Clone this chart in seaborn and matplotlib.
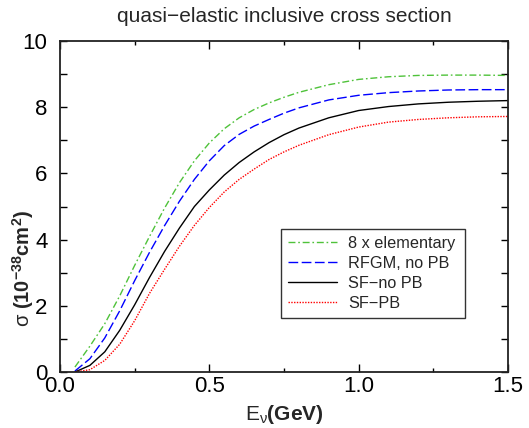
import matplotlib
matplotlib.use("Agg")
import matplotlib.pyplot as plt
import seaborn as sns
import pandas as pd
from matplotlib.ticker import MultipleLocator, FixedLocator

# Neutrino energy grid (GeV)
energy = [0.05, 0.10, 0.15, 0.20, 0.25, 0.30, 0.35, 0.40, 0.45, 0.50,
          0.55, 0.60, 0.65, 0.70, 0.75, 0.80, 0.90, 1.00, 1.10, 1.20,
          1.30, 1.40, 1.50]

# Cross sections in units of 1e-38 cm^2
elementary_x8 = [0.15, 0.78, 1.46, 2.30, 3.22, 4.10, 4.95, 5.72, 6.38, 6.92,
                 7.35, 7.68, 7.93, 8.13, 8.30, 8.45, 8.68, 8.84, 8.92, 8.96,
                 8.97, 8.97, 8.96]
rfgm_no_pb = [0.03, 0.40, 1.03, 1.85, 2.76, 3.62, 4.42, 5.16, 5.82, 6.38,
              6.84, 7.18, 7.43, 7.63, 7.82, 7.98, 8.22, 8.36, 8.44, 8.49,
              8.52, 8.53, 8.53]
sf_no_pb = [0.00, 0.20, 0.61, 1.26, 2.03, 2.86, 3.64, 4.35, 5.00, 5.50,
            5.95, 6.33, 6.65, 6.93, 7.17, 7.37, 7.68, 7.90, 8.02, 8.10,
            8.15, 8.18, 8.20]
sf_pb = [0.00, 0.07, 0.35, 0.84, 1.55, 2.38, 3.10, 3.80, 4.43, 4.97,
         5.44, 5.82, 6.13, 6.42, 6.65, 6.85, 7.17, 7.40, 7.55, 7.63,
         7.68, 7.71, 7.72]

labels = ["8 x elementary", "RFGM, no PB", "SF\u2212no PB", "SF\u2212PB"]
colors = ["#4fc23a", "#0000ff", "#000000", "#ff0000"]
dash_patterns = [(5, 2, 1.2, 2), (7, 2.5), (), (1, 1)]

sns.set_style("ticks")
plt.rcParams["font.family"] = ["Liberation Sans", "DejaVu Sans"]
plt.rcParams["mathtext.fontset"] = "custom"
plt.rcParams["mathtext.rm"] = "Liberation Sans"
plt.rcParams["mathtext.it"] = "Liberation Sans:italic"
plt.rcParams["mathtext.bf"] = "Liberation Sans:bold"

fig = plt.figure(figsize=(5.29, 4.28), dpi=100)
ax = fig.add_axes([0.1134, 0.1308, 0.8469, 0.7734])

series = [elementary_x8, rfgm_no_pb, sf_no_pb, sf_pb]
for values, label, color, dash in zip(series, labels, colors, dash_patterns):
    df = pd.DataFrame({"E": energy, "sigma": values})
    sns.lineplot(data=df, x="E", y="sigma", ax=ax, color=color,
                 linewidth=1.0, label=label)
    line = ax.get_lines()[-1]
    if dash:
        line.set_dashes(dash)

ax.set_xlim(0, 1.5)
ax.set_ylim(0, 10)
ax.xaxis.set_major_locator(FixedLocator([0.0, 0.5, 1.0, 1.5]))
ax.xaxis.set_minor_locator(MultipleLocator(0.25))
ax.set_xticklabels(["0.0", "0.5", "1.0", "1.5"])
ax.yaxis.set_major_locator(MultipleLocator(2))
ax.yaxis.set_minor_locator(MultipleLocator(1))

ax.tick_params(which="both", direction="in", top=True, right=True,
               labelsize=16, colors="black", width=1.0)
ax.tick_params(axis="x", which="major", length=6, pad=3)
ax.tick_params(axis="x", which="minor", length=3)
ax.tick_params(axis="y", which="both", length=5, pad=9)
for spine in ax.spines.values():
    spine.set_linewidth(1.3)
    spine.set_color("#222222")

ax.set_title("quasi\u2212elastic inclusive cross section", fontsize=15, pad=14)
ax.set_xlabel(r"E$_{\mathrm{\nu}}$$\mathbf{(GeV)}$", fontsize=15, labelpad=4)
ax.set_ylabel("\u03c3 " + r"$\mathbf{(10^{-38}cm^{2})}$", fontsize=14.5)
ax.yaxis.set_label_coords(-0.054, 0.314)

leg = ax.legend(loc="lower left", bbox_to_anchor=(0.493, 0.163, 0.411, 0.281),
                mode="expand", fontsize=11.7, frameon=True, fancybox=False,
                handlelength=3.0, handletextpad=0.7, borderpad=0.45,
                labelspacing=0.3, borderaxespad=0)
leg.get_frame().set_edgecolor("black")
leg.get_frame().set_linewidth(1.0)

fig.savefig("out.png", dpi=100)
